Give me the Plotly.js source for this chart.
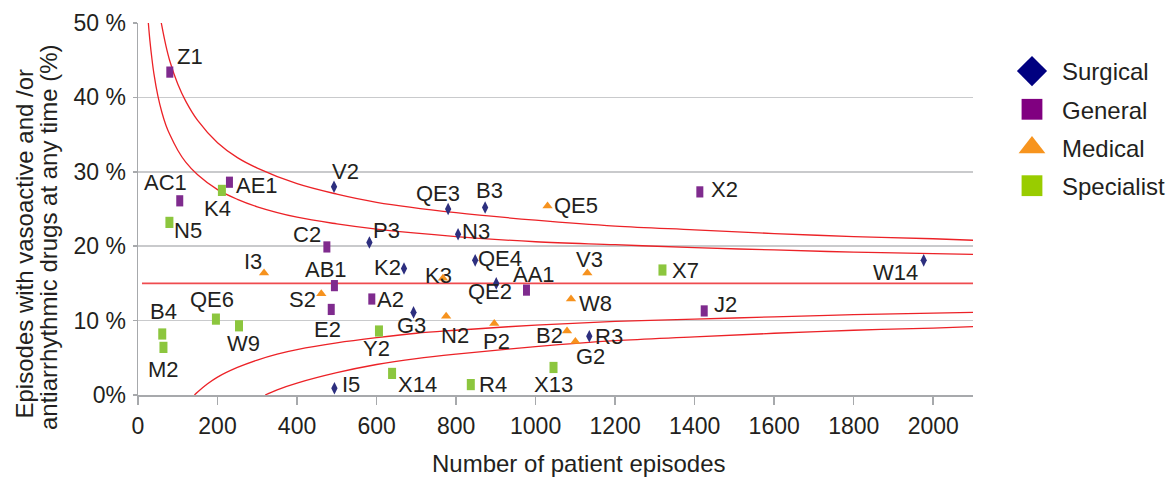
<!DOCTYPE html>
<html>
<head>
<meta charset="utf-8">
<script src="https://cdn.plot.ly/plotly-3.0.1.min.js"></script>
<style>
  html, body { margin: 0; padding: 0; background: #fff; }
  #chart { width: 1170px; height: 477px; }
</style>
</head>
<body>
<div id="chart"></div>
<script>
// ---------- Data ----------
const surgicalNames = ['V2','QE3','B3','N3','P3','K2','QE4','QE2','G3','R3','I5','W14'];
const surgicalN     = [493, 780, 873, 805, 582, 669, 848, 901, 693, 1135, 494, 1976];
const surgicalPct   = [28.0, 25.0, 25.2, 21.6, 20.5, 17.0, 18.1, 15.0, 11.1, 7.9, 0.9, 18.1];

const generalNames = ['Z1','AC1','AE1','C2','AB1','E2','A2','AA1','J2','X2'];
const generalN     = [80, 105, 230, 475, 494, 486, 588, 977, 1424, 1413];
const generalPct   = [43.4, 26.1, 28.6, 19.9, 14.7, 11.5, 12.9, 14.1, 11.3, 27.3];

const medicalNames = ['I3','S2','K3','V3','W8','N2','P2','B2','G2','QE5'];
const medicalN     = [317, 461, 767, 1130, 1089, 775, 896, 1079, 1100, 1030];
const medicalPct   = [16.4, 13.6, 15.7, 16.4, 12.9, 10.6, 9.6, 8.6, 7.2, 25.4];

const specialistNames = ['K4','N5','B4','M2','QE6','W9','Y2','X14','R4','X13','X7'];
const specialistN     = [211, 79, 61, 64, 196, 254, 606, 639, 837, 1045, 1319];
const specialistPct   = [27.5, 23.2, 8.2, 6.4, 10.2, 9.3, 8.6, 2.9, 1.4, 3.7, 16.8];

// Mean line and control limits, values at these episode counts
const meanN   = [10, 2100];
const meanPct = [15, 15];

const innerUpperN   = [26, 30, 35, 40, 50, 60, 70, 80, 100, 120, 150, 200, 250, 300, 400, 500, 600, 800, 1000, 1200, 1400, 1600, 1800, 2000, 2100];
const innerUpperPct = [50.0, 47.6, 45.2, 43.2, 40.2, 38.0, 36.3, 35.0, 32.9, 31.3, 29.6, 27.6, 26.3, 25.3, 23.9, 23.0, 22.3, 21.3, 20.6, 20.2, 19.8, 19.5, 19.2, 19.0, 18.9];

const outerUpperN   = [58, 60, 70, 80, 100, 120, 150, 200, 250, 300, 400, 500, 600, 800, 1000, 1200, 1400, 1600, 1800, 2000, 2100];
const outerUpperPct = [50.2, 49.6, 47.0, 44.9, 41.8, 39.5, 36.9, 33.9, 31.9, 30.5, 28.4, 27.0, 25.9, 24.5, 23.5, 22.7, 22.2, 21.7, 21.3, 21.0, 20.8];

const innerLowerN   = [142, 150, 175, 200, 250, 300, 350, 400, 500, 600, 700, 800, 1000, 1200, 1400, 1600, 1800, 2000, 2100];
const innerLowerPct = [0.0, 0.4, 1.5, 2.4, 3.7, 4.7, 5.5, 6.1, 7.0, 7.7, 8.3, 8.7, 9.4, 9.9, 10.2, 10.5, 10.8, 11.0, 11.1];

const outerLowerN   = [320, 350, 400, 500, 600, 700, 800, 1000, 1200, 1400, 1600, 1800, 2000, 2100];
const outerLowerPct = [0.0, 0.7, 1.6, 3.0, 4.1, 4.9, 5.5, 6.5, 7.3, 7.8, 8.3, 8.7, 9.0, 9.2];

const yTickVals  = [0, 10, 20, 30, 40, 50];
const yTickText  = ['0%', '10 %', '20 %', '30 %', '40 %', '50 %'];
const xTickVals  = [0, 200, 400, 600, 800, 1000, 1200, 1400, 1600, 1800, 2000];

const yTitleLines = ['Episodes with vasoactive and /or', 'antiarrhythmic drugs at any time (%)'];
const xTitle = 'Number of patient episodes';

// ---------- Label placement: pixel offset of each label's centre from its marker (layout only) ----------
const labelOffset = {
  V2:[11,-15], QE3:[-10,-16], B3:[4,-17], N3:[18,-3], P3:[17,-12], K2:[-17,-1],
  QE4:[25,-2], QE2:[-6,8], G3:[-2,13], R3:[20,0], I5:[17,-4], W14:[-28,12],
  Z1:[20,-16], AC1:[-14,-18], AE1:[28,3], C2:[-20,-12], AB1:[-8,-16], E2:[-4,20],
  A2:[19,0], AA1:[8,-16], J2:[21,-6], X2:[25,-2],
  I3:[-11,-11], S2:[-19,6], K3:[-4,-3], V3:[2,-13], W8:[24,4], N2:[9,19],
  P2:[2,18], B2:[-18,4], G2:[15,15], QE5:[28,-1],
  K4:[-4,18], N5:[19,8], B4:[1,-22], M2:[0,22], QE6:[-4,-20], W9:[4,18],
  Y2:[-2,17], X14:[25,11], R4:[22,0], X13:[0,17], X7:[23,0]
};

const FONT = 'Liberation Sans, Arial, Helvetica, sans-serif';
const TXT = '#231f20';
const labelFont = { family: FONT, size: 22, color: TXT };

function pointTrace(name, names, n, pct, marker) {
  return {
    type: 'scatter', mode: 'markers', name: name, showlegend: false,
    x: n, y: pct, text: names, marker: marker, cliponaxis: false, hoverinfo: 'x+y+text'
  };
}
function labelAnnotations(names, n, pct) {
  return names.map((k, i) => {
    const off = labelOffset[k] || [18, 0];
    return { xref: 'x', yref: 'y', x: n[i], y: pct[i], text: k, showarrow: false,
             xanchor: 'center', yanchor: 'middle', xshift: off[0], yshift: -off[1],
             font: labelFont };
  });
}
function limitTrace(n, pct, color, width) {
  return { type: 'scatter', mode: 'lines', x: n, y: pct, showlegend: false, hoverinfo: 'skip',
           line: { color: color, width: width, shape: 'spline', smoothing: 1 } };
}
function legendTrace(name, symbol, color) {
  return { type: 'scatter', mode: 'markers', name: name, x: [null], y: [null], showlegend: true,
           legendgroup: name, marker: { symbol: symbol, color: color, size: 16 } };
}

const RED = '#ec2227';
const traces = [
  limitTrace(meanN, meanPct, '#ef4b4f', 1.6),
  limitTrace(innerUpperN, innerUpperPct, RED, 1.3),
  limitTrace(outerUpperN, outerUpperPct, RED, 1.3),
  limitTrace(innerLowerN, innerLowerPct, RED, 1.3),
  limitTrace(outerLowerN, outerLowerPct, RED, 1.3),
  pointTrace('Surgical', surgicalNames, surgicalN, surgicalPct,
    { symbol: 'diamond-tall', size: 9, color: '#2d2f7f', line: { width: 0 } }),
  pointTrace('General', generalNames, generalN, generalPct,
    { symbol: 'line-ns', size: 8, color: '#7f2b8e', line: { width: 7, color: '#7f2b8e' } }),
  pointTrace('Medical', medicalNames, medicalN, medicalPct,
    { symbol: 'triangle-up', size: 9, color: '#f6921e', line: { width: 0 } }),
  pointTrace('Specialist', specialistNames, specialistN, specialistPct,
    { symbol: 'line-ns', size: 8, color: '#8cc63e', line: { width: 8, color: '#8cc63e' } }),
  legendTrace('Surgical', 'diamond', '#000080'),
  legendTrace('General', 'square', '#800080'),
  legendTrace('Medical', 'triangle-up', '#f7941e'),
  legendTrace('Specialist', 'square', '#99cc00')
];

const titleFont = { family: FONT, size: 24, color: TXT };
const annotations = []
  .concat(labelAnnotations(surgicalNames, surgicalN, surgicalPct))
  .concat(labelAnnotations(generalNames, generalN, generalPct))
  .concat(labelAnnotations(medicalNames, medicalN, medicalPct))
  .concat(labelAnnotations(specialistNames, specialistN, specialistPct))
  .concat([{
    xref: 'paper', yref: 'paper', x: -0.1365, y: 0.4073, xanchor: 'center', yanchor: 'middle',
    textangle: -90, showarrow: false, text: yTitleLines[0], font: titleFont
  }, {
    xref: 'paper', yref: 'paper', x: -0.1078, y: 0.4247, xanchor: 'center', yanchor: 'middle',
    textangle: -90, showarrow: false, text: yTitleLines[1], font: titleFont
  }, {
    xref: 'paper', yref: 'paper', x: 0.528, y: -0.183, xanchor: 'center', yanchor: 'middle',
    showarrow: false, text: xTitle, font: titleFont
  }]);

const layout = {
  width: 1170, height: 477,
  margin: { l: 138, r: 197, t: 23, b: 82, pad: 0 },
  paper_bgcolor: '#fff', plot_bgcolor: '#fff',
  font: { family: FONT, color: TXT, size: 22 },
  showlegend: true,
  legend: {
    xref: 'container', yref: 'container',
    x: 0.8564, y: 0.8973, xanchor: 'left', yanchor: 'top',
    font: { family: FONT, size: 24, color: TXT },
    itemwidth: 50, traceorder: 'grouped', tracegroupgap: 4,
    bgcolor: 'rgba(0,0,0,0)', borderwidth: 0
  },
  xaxis: {
    range: [0, 2100], tickvals: xTickVals, ticktext: xTickVals.map(String),
    showgrid: false, zeroline: false, showline: true, linecolor: '#a7a9ac', linewidth: 1.5,
    ticks: 'outside', ticklen: 8, tickwidth: 1.5, tickcolor: '#a7a9ac',
    tickfont: { family: FONT, size: 23, color: TXT }, ticklabelstandoff: 2,
    automargin: false, fixedrange: true
  },
  yaxis: {
    range: [0, 50], tickvals: yTickVals, ticktext: yTickText,
    showgrid: true, gridcolor: '#c9cacc', gridwidth: 1.5, zeroline: false,
    showline: true, linecolor: '#a7a9ac', linewidth: 1.5,
    ticks: 'outside', ticklen: 4, tickwidth: 1.5, tickcolor: '#a7a9ac',
    tickfont: { family: FONT, size: 23, color: TXT }, ticklabelstandoff: 2,
    automargin: false, fixedrange: true
  },
  annotations: annotations
};

const legendScale = [1.45, 1.3, 1.45, 1.3];
Plotly.newPlot('chart', traces, layout, { displayModeBar: false, staticPlot: true }).then(function (gd) {
  // enlarge the legend symbols to match the reference legend
  gd.querySelectorAll('.legend .legendpoints path.scatterpts').forEach(function (p, i) {
    const t = p.getAttribute('transform') || '';
    p.setAttribute('transform', t + ' scale(' + (legendScale[i] || 1.4) + ')');
  });
});
</script>
</body>
</html>
